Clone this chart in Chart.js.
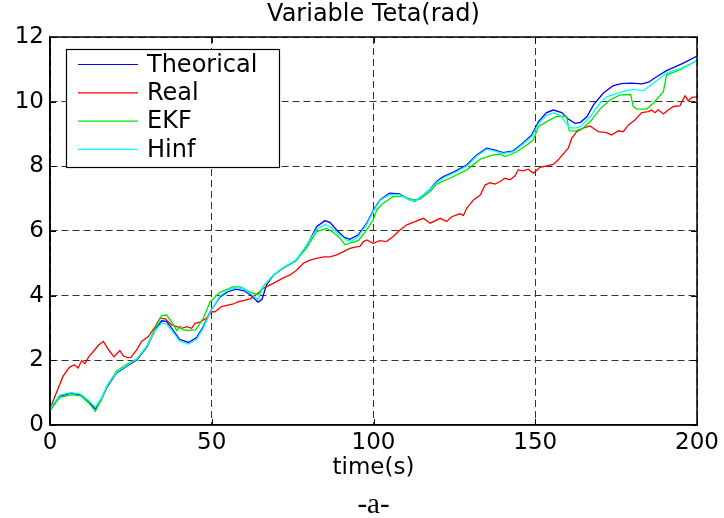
<!DOCTYPE html>
<html>
<head>
<meta charset="utf-8">
<script src="https://cdn.jsdelivr.net/npm/chart.js@4.4.0/dist/chart.umd.min.js"></script>
<style>
  html, body { margin: 0; padding: 0; background: #fff; }
</style>
</head>
<body>
<canvas id="myChart" width="724" height="518"></canvas>
<script>
'use strict';

// [time, value] pairs
const theoricalData = [[0,0.45],[3,0.88],[6.5,0.98],[9.5,0.92],[12,0.7],[14,0.5],[16,0.82],[17.5,1.15],[20.5,1.6],[23.5,1.8],[27,2.02],[30,2.42],[32.5,2.94],[34.5,3.22],[36,3.2],[38,2.94],[40,2.65],[42.8,2.55],[45.3,2.7],[47.4,3.04],[49.5,3.5],[52.5,3.95],[55,4.12],[57.5,4.2],[60,4.15],[62,4.02],[64.3,3.8],[65.5,3.88],[67,4.35],[69,4.62],[72,4.85],[76,5.08],[79.3,5.52],[82.4,6.13],[85,6.32],[86.6,6.26],[88.6,6.03],[91,5.8],[92.7,5.74],[95.3,5.88],[97.9,6.24],[100,6.65],[102,6.96],[105,7.17],[108,7.15],[110.8,6.98],[112.8,6.91],[115,7.08],[117.5,7.29],[119.5,7.53],[121.6,7.68],[124.7,7.82],[128.8,8.04],[131.9,8.35],[135,8.56],[137.6,8.5],[140.1,8.42],[143.2,8.48],[146.3,8.73],[148.9,8.97],[151,9.38],[153.5,9.66],[155.6,9.74],[158.2,9.66],[160.2,9.46],[162.3,9.33],[164,9.36],[166,9.54],[168,9.9],[171,10.26],[174,10.49],[176.5,10.56],[179.5,10.57],[183,10.55],[185,10.6],[187.5,10.77],[190.6,10.96],[195.8,11.19],[200,11.41]];

const realData = [[0,0.5],[2,1.0],[4,1.5],[6,1.78],[7.5,1.86],[8.7,1.76],[9.8,1.99],[10.8,1.9],[12,2.11],[13.4,2.27],[15,2.47],[16.5,2.58],[17.5,2.42],[18.5,2.27],[19.8,2.11],[21.6,2.3],[22.7,2.13],[24,2.08],[25,2.09],[26.8,2.32],[28.3,2.58],[30.4,2.73],[32.5,3.04],[34,3.3],[35.6,3.28],[37.6,3.09],[39.2,3.04],[40.7,2.99],[42.2,3.04],[43.8,2.99],[44.8,3.14],[46.4,3.19],[48.4,3.3],[50,3.5],[51,3.5],[53,3.66],[56.7,3.74],[58.2,3.81],[60,3.85],[62,3.9],[64,4.05],[66,4.23],[69,4.38],[72,4.54],[74.2,4.64],[76.3,4.79],[78.3,5.0],[80.4,5.1],[82.4,5.15],[84.5,5.2],[86.6,5.2],[88.6,5.26],[90.7,5.36],[92.7,5.46],[94.3,5.5],[95.8,5.52],[96.9,5.67],[97.9,5.72],[99.9,5.62],[102,5.7],[104,5.67],[106,5.82],[108.2,6.03],[110.3,6.19],[112.8,6.29],[115.4,6.39],[117.5,6.24],[120.6,6.39],[122.6,6.29],[124.2,6.44],[126.7,6.53],[127.8,6.48],[128.8,6.7],[130.9,6.96],[133,7.11],[134.5,7.42],[136,7.49],[137.6,7.45],[139.1,7.53],[140.7,7.63],[142.2,7.58],[143.7,7.7],[144.7,7.89],[146.3,7.86],[147.8,7.91],[149.4,7.79],[151.5,7.97],[153.5,8.01],[155.6,8.06],[157.1,8.2],[158.8,8.4],[160.2,8.56],[161.3,8.87],[162.8,9.07],[164.8,9.18],[166.9,9.25],[169.5,9.07],[172.1,9.04],[173.6,8.97],[175.7,9.1],[177.2,9.07],[178.8,9.28],[180.8,9.43],[182.9,9.66],[184.9,9.69],[186,9.74],[187,9.66],[188,9.75],[189.6,9.62],[191.1,9.74],[192.7,9.85],[194.7,9.87],[196.3,10.18],[197.3,10.03],[198.4,10.13],[200,10.15]];

const ekfData = [[0,0.45],[3,0.85],[6.5,0.93],[9.5,0.9],[12,0.68],[14,0.42],[16,0.8],[17.5,1.18],[20.5,1.66],[23.5,1.86],[27,2.05],[30,2.45],[32.5,3.0],[34.5,3.38],[36,3.4],[37.5,3.2],[39.2,2.92],[40.2,3.05],[41,2.95],[42.8,2.92],[45,2.94],[47.4,3.3],[49.5,3.81],[50.5,3.9],[52.5,4.1],[56.7,4.28],[59,4.26],[62,4.1],[64.4,4.03],[66,4.3],[69,4.62],[72,4.85],[76,5.08],[79.3,5.48],[82.4,5.98],[85.5,6.08],[87.6,5.95],[89.7,5.77],[91.2,5.57],[92.7,5.62],[95.3,5.7],[97.9,6.03],[99.9,6.34],[101,6.65],[103,6.86],[106,7.06],[109.2,7.06],[112.3,6.96],[114.3,6.98],[117.5,7.22],[119.5,7.45],[123.6,7.63],[128.8,7.89],[133,8.22],[137,8.35],[139.2,8.38],[140.7,8.3],[144.3,8.45],[147.4,8.66],[149.4,8.82],[151,9.23],[153.5,9.38],[156.6,9.54],[159.7,9.54],[160.5,9.1],[162.3,9.09],[164.8,9.18],[167.4,9.43],[170,9.77],[173.1,10.05],[176.2,10.21],[179.5,10.22],[180.3,9.85],[181.4,9.77],[184.4,9.77],[186.5,9.95],[189.6,10.31],[190.6,10.83],[194.7,10.98],[200,11.27]];

const hinfData = [[0,0.5],[3,0.92],[6.5,1.0],[9.5,0.95],[12,0.75],[14,0.55],[16,0.85],[17.5,1.2],[20.5,1.62],[23.5,1.82],[27,2.05],[30,2.45],[32.5,2.92],[34.5,3.15],[36,3.12],[38,2.88],[40,2.6],[42.8,2.5],[45.3,2.65],[47.4,3.0],[49.5,3.48],[52.5,3.98],[55,4.18],[57.5,4.25],[60,4.2],[62,4.06],[64.3,3.88],[66,4.3],[69,4.62],[72,4.86],[76,5.1],[79.3,5.55],[82.4,6.05],[85,6.2],[87,6.1],[89,5.92],[91.5,5.72],[93,5.68],[95.3,5.83],[97.9,6.2],[100,6.62],[102,6.94],[105,7.13],[108,7.12],[110.8,6.97],[113,6.92],[115,7.08],[117.5,7.28],[119.5,7.5],[122,7.67],[125,7.8],[129,8.02],[132,8.33],[135,8.53],[137.6,8.47],[140.1,8.4],[143.2,8.45],[146.3,8.7],[149,8.93],[151,9.32],[153.5,9.58],[155.6,9.66],[158,9.55],[160.5,9.2],[162.5,9.18],[164,9.23],[167,9.54],[170,9.95],[172,10.15],[176,10.28],[180,10.38],[183.4,10.34],[186.5,10.57],[190.6,10.88],[195,11.03],[200,11.27]];

const seriesNames = ['Theorical', 'Real', 'EKF', 'Hinf'];
const seriesColors = ['#0000ff', '#ff0000', '#00e600', '#00ffff'];
const seriesData = [theoricalData, realData, ekfData, hinfData];

const xTicksStep = 50;
const yTicksStep = 2;

const sans = 'DejaVu Sans';

// axes box with inward tick marks plus a MATLAB style legend
const frameAndLegend = {
  id: 'frameAndLegend',
  afterDatasetsDraw(chart) {
    const {ctx, chartArea: a, scales} = chart;
    ctx.save();
    ctx.strokeStyle = '#000';
    ctx.lineWidth = 1;
    ctx.beginPath();
    scales.x.ticks.forEach(t => {
      const px = Math.round(scales.x.getPixelForValue(t.value)) + 0.5;
      ctx.moveTo(px, a.bottom); ctx.lineTo(px, a.bottom - 6);
      ctx.moveTo(px, a.top); ctx.lineTo(px, a.top + 6);
    });
    scales.y.ticks.forEach(t => {
      const py = Math.round(scales.y.getPixelForValue(t.value)) + 0.5;
      ctx.moveTo(a.left, py); ctx.lineTo(a.left + 6, py);
      ctx.moveTo(a.right, py); ctx.lineTo(a.right - 6, py);
    });
    ctx.stroke();
    ctx.lineWidth = 1.5;
    ctx.strokeRect(a.left, a.top, a.right - a.left, a.bottom - a.top);

    // legend
    const lx = a.left + 16, ly = a.top + 12, lw = 213, lh = 118;
    ctx.fillStyle = '#fff';
    ctx.fillRect(lx, ly, lw, lh);
    ctx.lineWidth = 1.2;
    ctx.strokeRect(lx + 0.5, ly + 0.5, lw, lh);
    ctx.font = '24px "' + sans + '"';
    ctx.textBaseline = 'middle';
    ctx.textAlign = 'left';
    chart.data.datasets.forEach((ds, i) => {
      const y = ly + 15.5 + i * 28.3;
      ctx.strokeStyle = ds.borderColor;
      ctx.lineWidth = 1.2;
      ctx.beginPath();
      ctx.moveTo(lx + 12, y);
      ctx.lineTo(lx + 72, y);
      ctx.stroke();
      ctx.fillStyle = '#000';
      ctx.fillText(ds.label, lx + 81, y + 1);
    });
    ctx.restore();
  }
};

const ctx = document.getElementById('myChart').getContext('2d');
const myChart = new Chart(ctx, {
  type: 'line',
  data: {
    datasets: seriesNames.map((name, i) => ({
      label: name,
      data: seriesData[i].map(p => ({x: p[0], y: p[1]})),
      borderColor: seriesColors[i],
      borderWidth: 1.3,
      pointRadius: 0,
      fill: false,
      tension: 0,
      order: seriesNames.length - i
    }))
  },
  options: {
    responsive: false,
    animation: false,
    devicePixelRatio: 1,
    layout: { padding: { left: 0, right: 27, top: 0, bottom: 0 } },
    plugins: {
      legend: { display: false },
      tooltip: { enabled: false },
      title: {
        display: true,
        fullSize: false,
        text: 'Variable Teta(rad)',
        color: '#000',
        font: { family: sans, size: 24, weight: 'normal' },
        padding: { top: 0, bottom: 8.2 }
      },
      subtitle: {
        display: true,
        fullSize: false,
        position: 'bottom',
        text: '-a-',
        color: '#000',
        font: { family: 'Liberation Serif', size: 29, weight: 'normal', lineHeight: 0.9 },
        padding: { top: 0, bottom: 0 }
      }
    },
    scales: {
      x: {
        type: 'linear',
        min: 0,
        max: 200,
        ticks: { stepSize: xTicksStep, color: '#000', font: { family: sans, size: 23 }, padding: 4, maxRotation: 0 },
        grid: { color: '#333', lineWidth: 1, drawTicks: false },
        border: { color: '#000', width: 1.5, dash: [7, 4] },
        title: {
          display: true,
          text: 'time(s)',
          color: '#000',
          font: { family: sans, size: 23 },
          padding: { top: 0, bottom: 10 }
        },
        afterFit(scale) { scale.height = 67; }
      },
      y: {
        min: 0,
        max: 12,
        ticks: { stepSize: yTicksStep, color: '#000', font: { family: sans, size: 23 }, padding: 6 },
        grid: { color: '#333', lineWidth: 1, drawTicks: false },
        border: { color: '#000', width: 1.5, dash: [7, 4] },
        afterFit(scale) { scale.width = 50; }
      }
    }
  },
  plugins: [frameAndLegend]
});
</script>
</body>
</html>
